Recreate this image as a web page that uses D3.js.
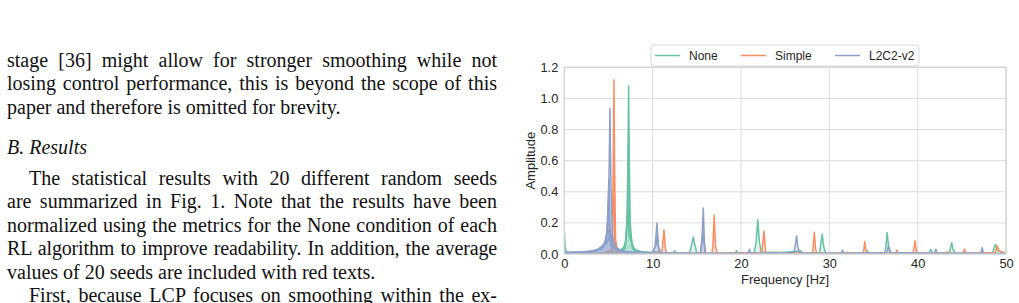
<!DOCTYPE html>
<html>
<head>
  <meta charset="utf-8">
  <title>Frequency spectrum</title>
  <script src="https://d3js.org/d3.v7.min.js"></script>
  <style>
    body {
      margin: 0;
      width: 1019px;
      height: 303px;
      overflow: hidden;
      background: #fff;
      position: relative;
    }

    .col {
      position: absolute;
      left: 7px;
      width: 490px;
      font-family: "Liberation Serif", "Times New Roman", serif;
      font-size: 20px;
      color: #111;
    }

    .col div {
      height: 23.4px;
      line-height: 23.4px;
      white-space: nowrap;
    }

    .col .j {
      text-align: justify;
      text-align-last: justify;
      white-space: normal;
    }

    .col .ind {
      padding-left: 22px;
    }

    #chart {
      position: absolute;
      left: 0;
      top: 0;
    }

    .grid line {
      stroke: #dcdcdc;
      stroke-width: 1;
    }

    .tick text, .lbl, .leg text {
      font-family: "Liberation Sans", Arial, sans-serif;
      fill: #262626;
    }
  </style>
</head>
<body>
  <div class="col" style="top:49px">
    <div class="j">stage [36] might allow for stronger smoothing while not</div>
    <div class="j">losing control performance, this is beyond the scope of this</div>
    <div>paper and therefore is omitted for brevity.</div>
  </div>
  <div class="col" style="top:136px"><div><i>B. Results</i></div></div>
  <div class="col" style="top:167px">
    <div class="j ind">The statistical results with 20 different random seeds</div>
    <div class="j">are summarized in Fig. 1. Note that the results have been</div>
    <div class="j">normalized using the metrics for the None condition of each</div>
    <div class="j" style="letter-spacing:-0.15px">RL algorithm to improve readability. In addition, the average</div>
    <div>values of 20 seeds are included with red texts.</div>
    <div class="j ind">First, because LCP focuses on smoothing within the ex-</div>
  </div>
  <div id="chart"></div>

<script>
  // series names and colours
  let seriesNames = ["None", "Simple", "L2C2-v2"];
  let seriesColors = ["#66c2a5", "#fc8d62", "#8da0cb"];

  let xTicks = [0, 10, 20, 30, 40, 50];
  let yTicks = [0.0, 0.2, 0.4, 0.6, 0.8, 1.0, 1.2];

  // [frequency Hz, amplitude], a few seeds per condition
  let noneTraces = [
    [[0,0.15],[0.1,0.04],[0.3,0.01],[2,0.005],[5,0.006],[6.5,0.015],[6.9,0.04],[7.1,0.22],[7.2,0.6],[7.28,1.08],[7.36,0.6],[7.46,0.2],[7.7,0.04],[8.5,0.015],[9.8,0.01],[10.2,0.015],[12.3,0.005],[12.5,0.02],[12.7,0.005],[14.2,0.01],[14.42,0.06],[14.6,0.11],[14.78,0.06],[15,0.005],[19.3,0.005],[19.5,0.02],[19.7,0.005],[21.5,0.01],[21.72,0.08],[21.9,0.22],[22.08,0.08],[22.3,0.01],[23.5,0.012],[24.5,0.01],[26.8,0.02],[27,0.005],[28.9,0.01],[29.05,0.07],[29.2,0.128],[29.35,0.05],[29.6,0.005],[34.2,0.005],[34.3,0.02],[34.5,0.005],[36.3,0.01],[36.42,0.06],[36.55,0.137],[36.7,0.05],[37,0.005],[41.3,0.005],[41.5,0.03],[41.7,0.005],[43.6,0.01],[43.72,0.04],[43.85,0.073],[44,0.03],[44.3,0.005],[48.5,0.01],[48.65,0.04],[48.8,0.062],[49,0.03],[49.5,0.01],[50,0.005]],
    [[5.5,0.01],[6.6,0.025],[6.95,0.08],[7.15,0.23],[7.26,0.7],[7.4,0.15],[7.8,0.03],[9,0.01]],
    [[6,0.01],[6.9,0.05],[7.2,0.3],[7.32,0.12],[8,0.02],[9.5,0.01]]
  ];

  let simpleTraces = [
    [[0,0.005],[4.8,0.005],[5.3,0.012],[5.45,0.1],[5.55,0.6],[5.62,1.12],[5.7,0.55],[5.8,0.1],[6,0.01],[10.9,0.005],[11.08,0.03],[11.28,0.155],[11.45,0.03],[11.6,0.005],[16.7,0.005],[16.82,0.05],[16.97,0.25],[17.12,0.05],[17.3,0.005],[22.35,0.01],[22.6,0.148],[22.8,0.01],[28.1,0.005],[28.18,0.05],[28.3,0.14],[28.45,0.03],[28.6,0.005],[31.9,0.005],[32.0,0.012],[32.1,0.005],[33.8,0.005],[33.92,0.03],[34.0,0.08],[34.12,0.03],[34.25,0.005],[37.5,0.005],[37.65,0.025],[37.8,0.005],[39.45,0.005],[39.58,0.03],[39.7,0.085],[39.82,0.03],[39.95,0.005],[43.2,0.005],[43.35,0.015],[43.5,0.005],[45.15,0.005],[45.3,0.032],[45.45,0.005],[48.8,0.01],[49.0,0.053],[49.2,0.02],[50,0.005]],
    [[4.5,0.005],[5.4,0.03],[5.6,0.5],[5.72,0.08],[6.2,0.01]]
  ];

  let l2c2Traces = [
    [[0,0.012],[1,0.012],[2,0.014],[3,0.018],[4,0.03],[4.6,0.06],[4.9,0.15],[5.05,0.45],[5.17,0.937],[5.28,0.45],[5.45,0.12],[5.8,0.04],[6.5,0.015],[8,0.01],[10,0.01],[10.28,0.05],[10.49,0.2],[10.66,0.05],[10.9,0.008],[15.45,0.005],[15.58,0.08],[15.73,0.295],[15.86,0.08],[16,0.005],[20.8,0.005],[20.95,0.03],[21.1,0.005],[26.0,0.01],[26.17,0.06],[26.3,0.118],[26.45,0.04],[26.7,0.005],[31.4,0.005],[31.5,0.026],[31.6,0.005],[36.5,0.01],[36.7,0.053],[36.85,0.01],[41.9,0.005],[42.07,0.03],[42.2,0.005],[47.15,0.005],[47.3,0.04],[47.45,0.005],[50,0.003]],
    [[0,0.01],[2,0.012],[3.5,0.02],[4.3,0.035],[4.8,0.09],[5.05,0.48],[5.2,0.15],[5.6,0.05],[6.5,0.02],[8,0.01],[10,0.008]],
    [[0,0.008],[2.5,0.012],[4,0.03],[4.7,0.08],[5.0,0.25],[5.25,0.08],[5.8,0.03],[7,0.012],[9,0.008]],
    [[0,0.006],[3,0.014],[4.4,0.04],[4.95,0.16],[5.3,0.05],[6.2,0.02],[8,0.008]],
    [[0,0.005],[3.5,0.02],[4.8,0.07],[5.1,0.11],[5.5,0.04],[7,0.01]],
    [[10,0.005],[10.4,0.06],[10.52,0.12],[10.7,0.02],[11,0.005]],
    [[15.4,0.005],[15.68,0.15],[15.9,0.01]]
  ];

  let allTraces = [noneTraces, simpleTraces, l2c2Traces];

  let width = 1019;
  let height = 303;
  let margin = {left: 564.3, right: 13, top: 67.3, bottom: 49};

  let x = d3.scaleLinear().domain([0, 50]).range([margin.left, width - margin.right]);
  let y = d3.scaleLinear().domain([0, 1.2]).range([height - margin.bottom, margin.top]);

  let svg = d3.select("#chart").append("svg")
    .attr("width", width)
    .attr("height", height);

  // grid
  let grid = svg.append("g").attr("class", "grid");
  grid.selectAll(".gx").data(xTicks).enter().append("line")
    .attr("x1", d => x(d)).attr("x2", d => x(d))
    .attr("y1", y(0)).attr("y2", y(1.2));
  grid.selectAll(".gy").data(yTicks).enter().append("line")
    .attr("x1", x(0)).attr("x2", x(50))
    .attr("y1", d => y(d)).attr("y2", d => y(d));

  let plot = svg.append("g");
  plot.append("clipPath").attr("id", "clip").append("rect")
    .attr("x", x(0)).attr("y", y(1.2))
    .attr("width", x(50) - x(0)).attr("height", y(0) - y(1.2));

  let line = d3.line().x(d => x(d[0])).y(d => y(d[1]));
  let area = d3.area().x(d => x(d[0])).y0(y(0)).y1(d => y(d[1]));

  allTraces.forEach((traces, i) => {
    let g = plot.append("g").attr("clip-path", "url(#clip)");
    g.selectAll(".fill")
      .data(traces)
      .enter().append("path")
      .attr("d", area)
      .attr("fill", seriesColors[i])
      .attr("fill-opacity", 0.2);
    g.selectAll(".ln")
      .data(traces)
      .enter().append("path")
      .attr("d", line)
      .attr("fill", "none")
      .attr("stroke", seriesColors[i])
      .attr("stroke-width", 1.5)
      .attr("stroke-linejoin", "round");
  });

  // frame
  svg.append("rect")
    .attr("x", x(0)).attr("y", y(1.2))
    .attr("width", x(50) - x(0)).attr("height", y(0) - y(1.2))
    .attr("fill", "none")
    .attr("stroke", "#d2d2d2")
    .attr("stroke-width", 1.2);

  // axes
  let xAxis = svg.append("g")
    .attr("transform", `translate(0,${y(0)})`)
    .call(d3.axisBottom(x).tickValues(xTicks).tickSize(0).tickPadding(5).tickFormat(d3.format("d")));
  let yAxis = svg.append("g")
    .attr("transform", `translate(${x(0)},0)`)
    .call(d3.axisLeft(y).tickValues(yTicks).tickSize(0).tickPadding(6).tickFormat(d3.format(".1f")));
  [xAxis, yAxis].forEach(a => {
    a.select(".domain").remove();
    a.selectAll("text").attr("font-size", 12.8);
  });

  svg.append("text")
    .attr("class", "lbl")
    .attr("x", (x(0) + x(50)) / 2)
    .attr("y", 284)
    .attr("text-anchor", "middle")
    .attr("font-size", 13)
    .text("Frequency [Hz]");

  svg.append("text")
    .attr("class", "lbl")
    .attr("transform", `translate(534.5,${(y(0) + y(1.2)) / 2}) rotate(-90)`)
    .attr("text-anchor", "middle")
    .attr("font-size", 13)
    .text("Amplitude");

  // legend
  let leg = svg.append("g").attr("class", "leg");
  leg.append("rect")
    .attr("x", 651).attr("y", 45)
    .attr("width", 268).attr("height", 21)
    .attr("rx", 3)
    .attr("fill", "#fff")
    .attr("stroke", "#d6d6d6");
  let legX = [655, 741, 835];
  seriesNames.forEach((name, i) => {
    leg.append("line")
      .attr("x1", legX[i]).attr("x2", legX[i] + 25)
      .attr("y1", 55.5).attr("y2", 55.5)
      .attr("stroke", seriesColors[i])
      .attr("stroke-width", 1.5);
    leg.append("text")
      .attr("x", legX[i] + 34)
      .attr("y", 60)
      .attr("font-size", 12)
      .text(name);
  });
</script>
</body>
</html>
